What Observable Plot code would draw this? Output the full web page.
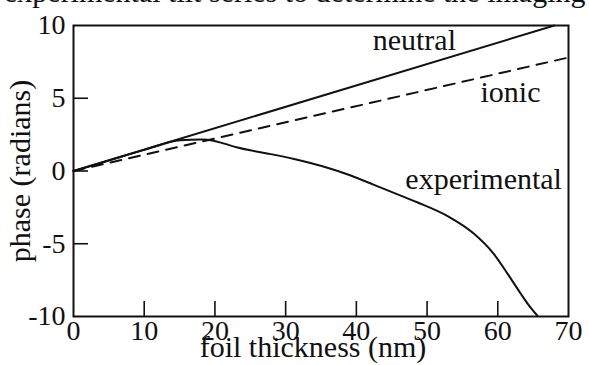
<!DOCTYPE html>
<html><head><meta charset="utf-8">
<script src="https://cdn.jsdelivr.net/npm/d3@7"></script>
<script src="https://cdn.jsdelivr.net/npm/@observablehq/plot@0.6"></script>
<style>
body{margin:0;background:#fff;overflow:hidden}
#wrap{position:relative;width:589px;height:365px;overflow:hidden;background:#fff}
#cut{position:absolute;left:4px;top:-23px;font:30px "Liberation Serif",serif;line-height:1;white-space:nowrap;color:#111}
#chart{position:absolute;left:0;top:0}
#chart svg, #chart svg text{font-family:"Liberation Serif","Times New Roman",serif !important;font-variant:normal !important}
</style></head><body>
<div id="wrap"><div id="cut">experimental tilt series to determine the imaging</div><div id="chart"></div></div>
<script>
const xTicks = [0, 10, 20, 30, 40, 50, 60, 70];
const yTicks = [-10, -5, 0, 5, 10];
const neutralX = [0, 68];
const neutralY = [0, 10];
const ionicX = [0, 70];
const ionicY = [0, 7.8];
const expX = [0, 5, 10, 15.1, 18.0, 19.8, 21.3, 23.2, 25.0, 27.9, 31.2, 35.9, 38.7, 42.5, 45.3, 48.6, 52.9, 56.6, 59.4, 61.3, 63.2, 64.4, 65.6];
const expY = [0, 0.72, 1.45, 2.11, 2.16, 2.08, 1.88, 1.62, 1.42, 1.16, 0.82, 0.22, -0.22, -0.95, -1.5, -2.15, -3.1, -4.3, -5.68, -7.0, -8.4, -9.24, -9.95];
const seriesNames = ["neutral", "ionic", "experimental"];
const labelX = [48.2, 61.8, 58.0];
const labelY = [8.96, 5.41, -0.55];
const xTitle = "foil thickness (nm)";
const yTitle = "phase (radians)";

const toRows = (xs, ys) => xs.map((x, i) => ({x, y: ys[i]}));
const labels = seriesNames.map((t, i) => ({text: t, x: labelX[i], y: labelY[i]}));
const ink = "#111";
const W = 589, H = 365, mL = 73, mR = 21, mT = 25, mB = 49, tick = 15;
const xDom = [0, 70], yDom = [-10, 10];
const tickDY = tick * (yDom[1] - yDom[0]) / (H - mT - mB);
const tickDX = tick * (xDom[1] - xDom[0]) / (W - mL - mR);
const fmt = d => String(d);

const chart = Plot.plot({
  width: W, height: H,
  marginLeft: mL, marginRight: mR, marginTop: mT, marginBottom: mB,
  x: {domain: xDom},
  y: {domain: yDom},
  style: {fontSize: "28px", color: ink, background: "transparent", overflow: "visible"},
  marks: [
    Plot.ruleX(xTicks.slice(1, -1), {x: d => d, y1: yDom[0], y2: yDom[0] + tickDY, stroke: ink, strokeWidth: 1.6}),
    Plot.ruleY(yTicks.slice(1, -1), {y: d => d, x1: xDom[0], x2: xDom[0] + tickDX, stroke: ink, strokeWidth: 1.6}),
    Plot.axisX(xTicks, {tickSize: 0, tickPadding: 4, fontSize: 28, fill: ink, label: null, tickFormat: fmt}),
    Plot.axisY(yTicks, {tickSize: 0, tickPadding: 8, fontSize: 28, fill: ink, label: null, tickFormat: fmt}),
    Plot.frame({stroke: ink, strokeWidth: 2}),
    Plot.line(toRows(neutralX, neutralY), {x: "x", y: "y", stroke: ink, strokeWidth: 2}),
    Plot.line(toRows(ionicX, ionicY), {x: "x", y: "y", stroke: ink, strokeWidth: 2, strokeDasharray: "11,8"}),
    Plot.line(toRows(expX, expY), {x: "x", y: "y", stroke: ink, strokeWidth: 2, curve: "monotone-x"}),
    Plot.text(labels, {x: "x", y: "y", text: "text", fontSize: 30, fill: ink}),
    Plot.text([yTitle], {frameAnchor: "left", textAnchor: "middle", rotate: -90, dx: -53, fontSize: 30, fill: ink}),
    Plot.text([xTitle], {frameAnchor: "bottom", textAnchor: "middle", lineAnchor: "top", dy: 19, dx: -8, fontSize: 30, fill: ink})
  ]
});
document.getElementById("chart").appendChild(chart);
</script>
</body></html>
